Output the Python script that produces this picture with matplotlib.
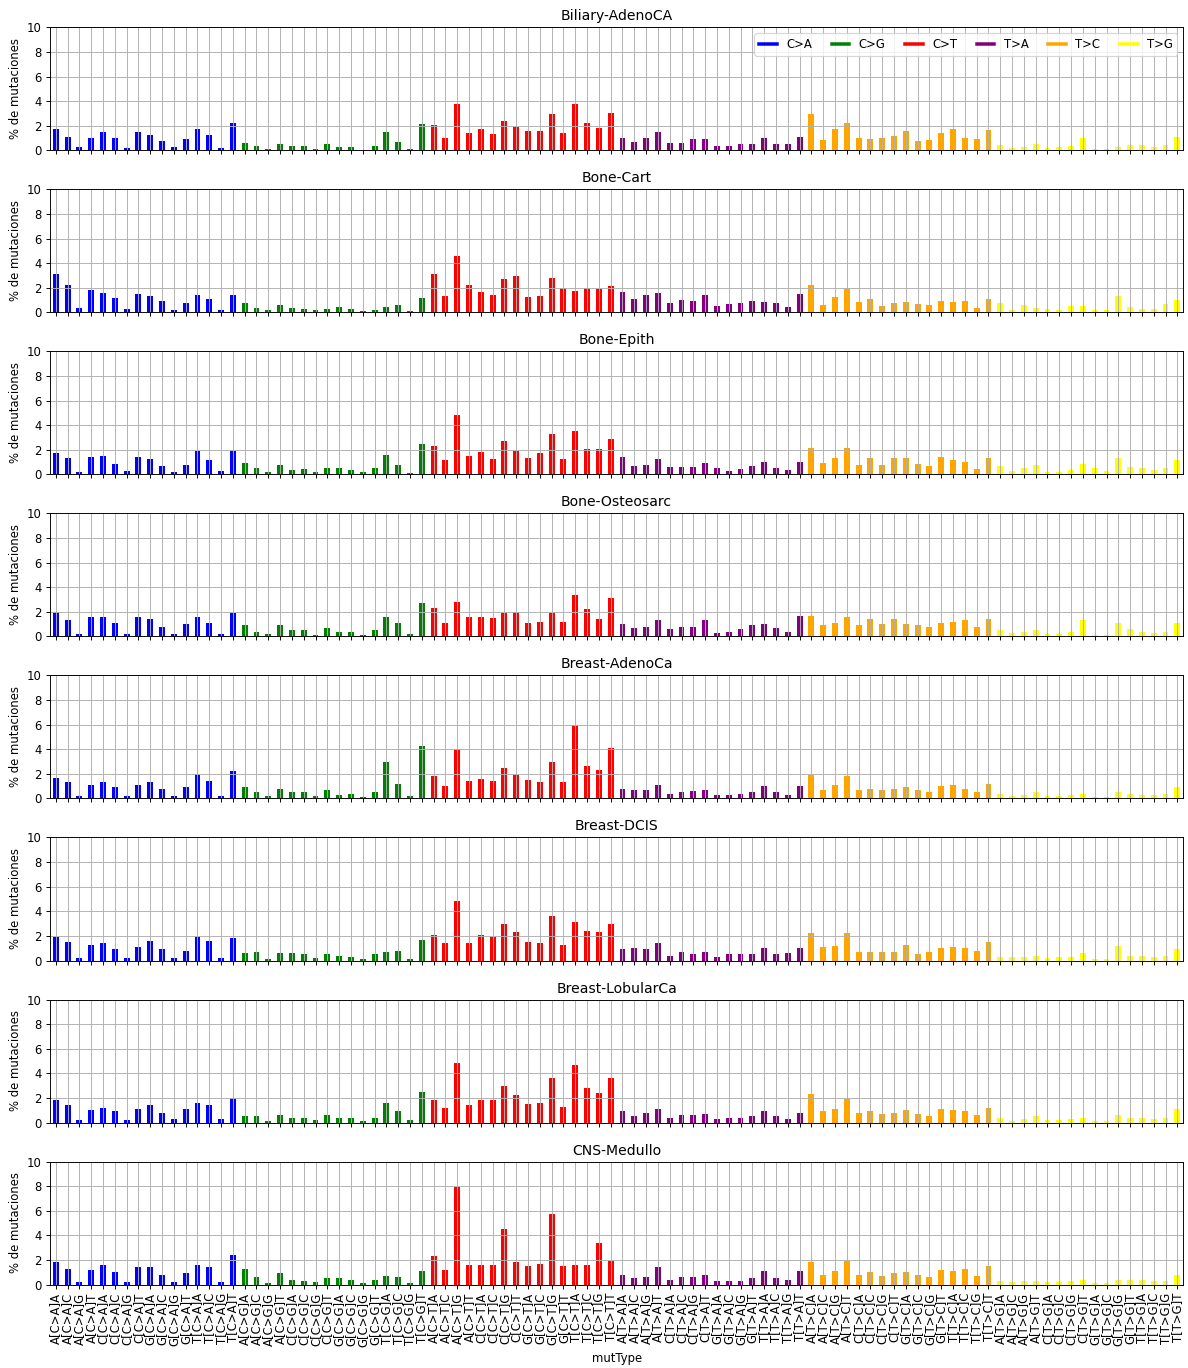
import matplotlib.pyplot as plt
from matplotlib.lines import Line2D
import numpy as np

bases = ["A", "C", "G", "T"]
mut_types = ["C>A", "C>G", "C>T", "T>A", "T>C", "T>G"]
mut_colors = ["blue", "green", "red", "purple", "orange", "yellow"]

# 96 trinucleotide contexts, e.g. A[C>A]A
labels = [f"{l}[{m}]{r}" for m in mut_types for l in bases for r in bases]

# % de mutaciones per cancer type (order: C>A, C>G, C>T, T>A, T>C, T>G)
biliary_adenoca = [
    1.75, 1.12, 0.25, 1.04, 1.48, 0.99, 0.19, 1.48, 1.26, 0.77, 0.25, 0.90, 1.70, 1.26, 0.19, 2.25,
    0.60, 0.33, 0.11, 0.55, 0.33, 0.33, 0.11, 0.55, 0.25, 0.25, 0.05, 0.33, 1.48, 0.68, 0.11, 2.16,
    2.05, 1.04, 3.80, 1.40, 1.75, 1.34, 2.41, 1.92, 1.56, 1.56, 2.96, 1.40, 3.75, 2.25, 1.84, 3.04,
    0.99, 0.68, 0.99, 1.48, 0.63, 0.63, 0.90, 0.90, 0.33, 0.33, 0.49, 0.49, 1.04, 0.55, 0.49, 1.12,
    2.96, 0.85, 1.75, 2.19, 1.04, 0.90, 0.99, 1.18, 1.56, 0.77, 0.85, 1.40, 1.70, 1.04, 0.90, 1.62,
    0.41, 0.19, 0.25, 0.49, 0.19, 0.25, 0.33, 0.99, 0.11, 0.11, 0.25, 0.41, 0.41, 0.25, 0.41, 1.10,
]
bone_cart = [
    3.11, 2.25, 0.36, 1.80, 1.61, 1.17, 0.28, 1.53, 1.33, 0.94, 0.22, 0.75, 1.44, 1.08, 0.22, 1.39,
    0.75, 0.36, 0.22, 0.58, 0.36, 0.28, 0.17, 0.28, 0.44, 0.28, 0.11, 0.22, 0.44, 0.58, 0.08, 1.17,
    3.11, 1.30, 4.61, 2.25, 1.67, 1.39, 2.75, 2.97, 1.25, 1.30, 2.83, 1.97, 1.75, 1.97, 1.89, 2.17,
    1.67, 1.08, 1.39, 1.61, 0.75, 1.03, 0.94, 1.39, 0.53, 0.67, 0.75, 0.94, 0.81, 0.75, 0.44, 1.53,
    2.25, 0.58, 1.22, 1.89, 0.81, 1.08, 0.53, 0.75, 0.86, 0.67, 0.58, 0.94, 0.86, 0.94, 0.36, 1.08,
    0.75, 0.17, 0.58, 0.36, 0.28, 0.22, 0.50, 0.50, 0.22, 0.17, 1.36, 0.44, 0.28, 0.28, 0.67, 1.03,
]
bone_epith = [
    1.72, 1.31, 0.22, 1.44, 1.53, 0.87, 0.30, 1.44, 1.23, 0.65, 0.22, 0.79, 1.93, 1.14, 0.30, 1.88,
    0.95, 0.52, 0.22, 0.74, 0.38, 0.46, 0.22, 0.52, 0.52, 0.38, 0.16, 0.52, 1.58, 0.79, 0.08, 2.51,
    2.29, 1.14, 4.82, 1.53, 1.80, 1.23, 2.72, 1.93, 1.36, 1.72, 3.32, 1.23, 3.51, 2.10, 2.10, 2.86,
    1.44, 0.65, 0.79, 1.23, 0.57, 0.57, 0.57, 0.95, 0.52, 0.30, 0.46, 0.65, 1.00, 0.52, 0.38, 1.00,
    2.13, 0.95, 1.31, 2.13, 0.79, 1.31, 0.79, 1.36, 1.36, 0.87, 0.65, 1.44, 1.14, 1.00, 0.46, 1.31,
    0.65, 0.30, 0.52, 0.74, 0.22, 0.22, 0.38, 0.87, 0.52, 0.30, 1.31, 0.57, 0.52, 0.38, 0.52, 1.14,
]
bone_osteosarc = [
    2.0, 1.3, 0.2, 1.6, 1.6, 1.1, 0.2, 1.6, 1.4, 0.8, 0.2, 1.0, 1.6, 1.1, 0.2, 1.9,
    0.9, 0.4, 0.2, 0.9, 0.5, 0.5, 0.1, 0.7, 0.4, 0.4, 0.1, 0.5, 1.6, 1.1, 0.2, 2.7,
    2.3, 1.1, 2.8, 1.6, 1.6, 1.5, 1.9, 2.0, 1.1, 1.2, 1.9, 1.2, 3.4, 2.2, 1.4, 3.1,
    1.0, 0.7, 0.8, 1.3, 0.6, 0.8, 0.8, 1.3, 0.3, 0.4, 0.6, 0.9, 1.0, 0.7, 0.4, 1.7,
    1.7, 0.9, 1.1, 1.6, 0.9, 1.4, 1.0, 1.4, 1.0, 0.9, 0.8, 1.1, 1.2, 1.3, 0.8, 1.4,
    0.5, 0.3, 0.4, 0.5, 0.2, 0.2, 0.4, 1.3, 0.1, 0.1, 1.1, 0.6, 0.4, 0.3, 0.4, 1.1,
]
breast_adenoca = [
    1.7, 1.3, 0.2, 1.1, 1.3, 0.9, 0.2, 1.1, 1.3, 0.8, 0.2, 0.9, 2.0, 1.4, 0.2, 2.2,
    0.9, 0.5, 0.2, 0.8, 0.5, 0.5, 0.2, 0.7, 0.3, 0.4, 0.1, 0.5, 3.0, 1.2, 0.2, 4.3,
    1.8, 1.0, 4.0, 1.4, 1.6, 1.4, 2.5, 1.9, 1.5, 1.3, 3.0, 1.3, 6.0, 2.6, 2.3, 4.1,
    0.8, 0.7, 0.7, 1.1, 0.4, 0.5, 0.6, 0.7, 0.3, 0.3, 0.4, 0.5, 1.0, 0.5, 0.3, 1.0,
    1.9, 0.7, 1.1, 1.8, 0.7, 0.8, 0.7, 0.8, 0.9, 0.7, 0.5, 1.0, 1.1, 0.8, 0.5, 1.2,
    0.4, 0.2, 0.3, 0.5, 0.2, 0.2, 0.3, 0.4, 0.1, 0.1, 0.5, 0.4, 0.3, 0.3, 0.4, 0.9,
]
breast_dcis = [
    1.9, 1.5, 0.2, 1.3, 1.4, 0.9, 0.2, 1.1, 1.6, 0.9, 0.2, 0.8, 1.9, 1.6, 0.2, 1.8,
    0.6, 0.7, 0.1, 0.6, 0.6, 0.5, 0.2, 0.5, 0.4, 0.3, 0.1, 0.5, 0.7, 0.8, 0.1, 1.7,
    2.1, 1.4, 4.8, 1.4, 2.1, 1.9, 3.0, 2.3, 1.5, 1.4, 3.6, 1.3, 3.1, 2.4, 2.3, 3.0,
    0.9, 1.0, 0.9, 1.4, 0.4, 0.7, 0.5, 0.7, 0.3, 0.5, 0.5, 0.5, 1.0, 0.5, 0.6, 1.0,
    2.2, 1.1, 1.2, 2.2, 0.7, 0.7, 0.7, 0.7, 1.3, 0.5, 0.7, 1.0, 1.1, 1.0, 0.8, 1.5,
    0.3, 0.3, 0.3, 0.4, 0.2, 0.3, 0.3, 0.6, 0.1, 0.1, 1.2, 0.4, 0.4, 0.3, 0.4, 0.9,
]
breast_lobularca = [
    1.8, 1.4, 0.2, 1.0, 1.2, 0.9, 0.2, 1.1, 1.4, 0.8, 0.3, 1.1, 1.6, 1.4, 0.3, 2.0,
    0.5, 0.5, 0.1, 0.6, 0.4, 0.4, 0.2, 0.6, 0.4, 0.4, 0.1, 0.4, 1.6, 0.9, 0.2, 2.5,
    1.8, 1.2, 4.8, 1.4, 1.8, 1.8, 3.0, 2.2, 1.5, 1.6, 3.6, 1.3, 4.7, 2.8, 2.4, 3.6,
    0.9, 0.5, 0.8, 1.1, 0.4, 0.6, 0.6, 0.7, 0.3, 0.4, 0.4, 0.5, 0.9, 0.5, 0.3, 0.8,
    2.3, 0.9, 1.1, 1.9, 0.8, 0.9, 0.7, 0.8, 1.0, 0.7, 0.5, 1.1, 1.0, 0.9, 0.6, 1.2,
    0.4, 0.1, 0.3, 0.5, 0.2, 0.2, 0.3, 0.4, 0.1, 0.1, 0.6, 0.4, 0.4, 0.3, 0.4, 1.1,
]
cns_medullo = [
    1.8, 1.3, 0.2, 1.2, 1.6, 1.0, 0.2, 1.4, 1.4, 0.8, 0.2, 0.9, 1.6, 1.4, 0.2, 2.4,
    1.3, 0.6, 0.1, 0.9, 0.4, 0.3, 0.2, 0.5, 0.5, 0.4, 0.1, 0.4, 0.7, 0.6, 0.1, 1.1,
    2.3, 1.2, 7.9, 1.6, 1.6, 1.6, 4.5, 1.8, 1.5, 1.7, 5.7, 1.5, 1.6, 1.6, 3.4, 1.9,
    0.8, 0.5, 0.6, 1.4, 0.4, 0.6, 0.6, 0.8, 0.3, 0.3, 0.3, 0.5, 1.1, 0.5, 0.4, 1.1,
    1.8, 0.8, 1.1, 1.9, 0.8, 1.0, 0.7, 0.9, 1.0, 0.8, 0.6, 1.2, 1.1, 1.3, 0.7, 1.5,
    0.3, 0.2, 0.3, 0.3, 0.2, 0.2, 0.3, 0.4, 0.1, 0.1, 0.4, 0.4, 0.4, 0.3, 0.3, 0.8,
]

cancers = ["Biliary-AdenoCA", "Bone-Cart", "Bone-Epith", "Bone-Osteosarc",
           "Breast-AdenoCa", "Breast-DCIS", "Breast-LobularCa", "CNS-Medullo"]
values = [biliary_adenoca, bone_cart, bone_epith, bone_osteosarc,
          breast_adenoca, breast_dcis, breast_lobularca, cns_medullo]

bar_colors = [c for c in mut_colors for _ in range(16)]
x = np.arange(len(labels))

dpi = 84
fig, axes = plt.subplots(8, 1, figsize=(1188 / dpi, 1368 / dpi), dpi=dpi, sharex=True)
fig.subplots_adjust(left=0.042, right=0.996, top=0.980, bottom=0.061, hspace=0.317)

for ax, name, vals in zip(axes, cancers, values):
    ax.bar(x, vals, width=0.5, color=bar_colors)
    ax.set_title(name)
    ax.set_ylabel("% de mutaciones")
    ax.set_ylim(0, 10)
    ax.set_yticks(range(0, 11, 2))
    ax.set_xlim(-0.5, len(labels) - 0.5)
    ax.grid(True)

# legend only on the first panel
handles = [Line2D([0], [0], color=c, lw=3) for c in mut_colors]
axes[0].legend(handles, mut_types, loc="upper right", ncol=6,
               handlelength=1.5, columnspacing=1.7)

axes[-1].set_xticks(x)
axes[-1].set_xticklabels(labels, rotation=90)
axes[-1].set_xlabel("mutType")

plt.savefig("out.png", dpi=dpi)
